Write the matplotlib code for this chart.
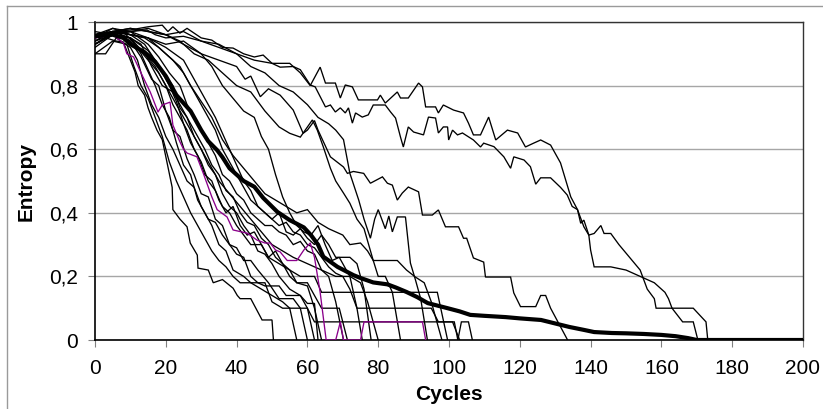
import matplotlib
matplotlib.use("Agg")
import matplotlib.pyplot as plt
from matplotlib.lines import Line2D

plt.rcParams["font.family"] = ["Liberation Sans", "DejaVu Sans"]

# ---- entropy traces per run: (cycle, entropy) vertices ----
run_a = [(0, 0.96), (5, 0.97), (10, 0.975), (15, 0.985), (19, 0.99), (20.6, 0.97), (22, 0.985), (24, 0.965),
         (26, 0.98), (28, 0.965), (30, 0.95), (33, 0.943), (36, 0.92), (39, 0.918), (42, 0.90), (45, 0.89),
         (47.5, 0.896), (50, 0.87), (55, 0.87), (58, 0.84), (60.8, 0.80), (63.6, 0.858), (65.1, 0.808),
         (67.9, 0.808), (69.3, 0.761), (70.7, 0.802), (72.7, 0.796), (74.4, 0.755), (79.8, 0.755), (80.6, 0.77),
         (82, 0.745), (85.4, 0.78), (86.3, 0.761), (88.5, 0.761), (91.4, 0.808), (92.5, 0.796), (93.4, 0.733),
         (96.2, 0.733), (97, 0.714), (98.4, 0.739), (101.3, 0.723), (104.1, 0.714), (105.5, 0.682),
         (106.9, 0.645), (108.9, 0.645), (111.2, 0.701), (113.2, 0.629), (116.5, 0.66), (119.4, 0.651),
         (121.6, 0.607), (123.9, 0.619), (125.9, 0.629), (128.7, 0.613), (131.5, 0.557), (134.4, 0.45),
         (136.3, 0.41), (138.1, 0.356), (139.5, 0.33), (141, 0.335), (142.9, 0.36), (143.8, 0.335),
         (145.7, 0.335), (148, 0.30), (151, 0.26), (154, 0.22), (156, 0.16), (158, 0.13), (158.5, 0.10),
         (163, 0.10), (166, 0.057), (169, 0.057), (170.3, 0.0)]

run_b = [(0, 0.93), (5, 0.96), (10, 0.97), (14.7, 0.975), (17, 0.96), (20, 0.95), (25, 0.955), (30, 0.94),
         (35, 0.92), (40, 0.90), (45, 0.88), (50, 0.87), (52.3, 0.858), (56, 0.86), (58, 0.85), (60.8, 0.802),
         (62.2, 0.796), (65.1, 0.733), (66.5, 0.739), (67.9, 0.717), (69.3, 0.73), (70.7, 0.714), (71.6, 0.73),
         (72.7, 0.682), (73.6, 0.714), (75.5, 0.701), (77.2, 0.708), (78.6, 0.739), (82, 0.739), (83.5, 0.717),
         (84.9, 0.698), (86.3, 0.638), (87.1, 0.607), (88.5, 0.67), (90, 0.654), (92.8, 0.645), (94.2, 0.701),
         (96.2, 0.698), (97, 0.651), (98.4, 0.67), (99.6, 0.67), (99.9, 0.629), (101, 0.66), (102.4, 0.645),
         (103.8, 0.651), (106.9, 0.629), (108.9, 0.607), (109.8, 0.619), (112.7, 0.608), (115.5, 0.576),
         (117.4, 0.54), (118.3, 0.576), (121.2, 0.566), (123, 0.545), (124.5, 0.49), (125.9, 0.51),
         (128.7, 0.51), (131.5, 0.48), (133.4, 0.456), (134.8, 0.42), (136.3, 0.41), (137.2, 0.367),
         (138.1, 0.377), (139.5, 0.33), (140, 0.283), (141, 0.23), (145.7, 0.23), (150, 0.22), (154, 0.20),
         (158, 0.18), (161, 0.15), (162, 0.13), (163, 0.10), (169, 0.10), (172.6, 0.057), (173.1, 0.0)]

run_c = [(0, 0.95), (5, 0.97), (10, 0.96), (15, 0.95), (20, 0.93), (25, 0.94), (30, 0.90), (35, 0.88),
         (40, 0.86), (42.4, 0.82), (44, 0.83), (46.7, 0.765), (49, 0.79), (52.3, 0.77), (56, 0.723),
         (58.8, 0.65), (60, 0.66), (62, 0.69), (63, 0.66), (66.5, 0.576), (70.2, 0.544), (71.3, 0.524),
         (73, 0.53), (75.9, 0.524), (77.8, 0.493), (81.2, 0.513), (82.6, 0.493), (84, 0.487), (85.4, 0.44),
         (86.8, 0.462), (88.5, 0.481), (91.4, 0.466), (92.5, 0.393), (95.3, 0.393), (97, 0.409), (99, 0.356),
         (102.7, 0.356), (104.1, 0.32), (105, 0.32), (106.9, 0.258), (109.8, 0.245), (110.3, 0.198),
         (117.4, 0.198), (118.3, 0.148), (120.2, 0.105), (124.5, 0.105), (125.9, 0.14), (127.3, 0.14),
         (128.7, 0.10), (133.5, 0.0)]

run_d = [(0, 0.94), (5, 0.97), (10, 0.95), (13, 0.90), (15, 0.85), (17, 0.80), (19, 0.74), (21, 0.70),
         (23, 0.62), (25, 0.55), (27, 0.52), (29, 0.44), (31, 0.40), (33, 0.36), (35, 0.30), (37, 0.28),
         (39, 0.22), (42, 0.20), (44, 0.18), (47, 0.16), (50, 0.14), (53, 0.12), (55, 0.10), (60, 0.10),
         (62, 0.057), (101.5, 0.057), (102.5, 0.0), (103.5, 0.057), (105.5, 0.057), (106.6, 0.0)]

run_e = [(0, 0.93), (4, 0.96), (8, 0.97), (12, 0.92), (15, 0.88), (18, 0.84), (20, 0.80), (22, 0.74),
         (24, 0.70), (26, 0.66), (28, 0.60), (30, 0.56), (32, 0.50), (34, 0.47), (36, 0.42), (38, 0.40),
         (40, 0.36), (42, 0.33), (44, 0.30), (47, 0.30), (49, 0.26), (52, 0.24), (55, 0.22), (58, 0.20),
         (62, 0.20), (64, 0.15), (96.7, 0.15), (99.6, 0.0)]

run_f = [(0, 0.90), (5, 0.94), (9, 0.93), (11, 0.86), (13, 0.80), (15, 0.76), (17, 0.70), (19, 0.64),
         (21, 0.56), (23, 0.50), (25, 0.45), (27, 0.40), (29, 0.36), (31, 0.32), (33, 0.28), (35, 0.25),
         (37, 0.23), (39, 0.20), (41, 0.18), (48, 0.18), (50, 0.12), (53, 0.10), (55, 0.10), (57, 0.0)]

run_g = [(0, 0.95), (5, 0.98), (10, 0.97), (15, 0.98), (20, 0.96), (25, 0.97), (30, 0.94), (35, 0.93),
         (40, 0.90), (44, 0.86), (48, 0.84), (52, 0.80), (56, 0.78), (60, 0.74), (63, 0.70), (66, 0.68),
         (68, 0.66), (70.2, 0.63), (72, 0.524), (74.5, 0.44), (76, 0.38), (77.8, 0.32), (79, 0.38),
         (80, 0.41), (82, 0.35), (83, 0.39), (84, 0.34), (85.4, 0.387), (87.7, 0.387), (89.1, 0.242),
         (90.5, 0.19), (92, 0.13), (93.9, 0.0)]

run_h = [(0, 0.95), (6, 0.97), (10, 0.94), (13, 0.89), (16, 0.82), (18, 0.80), (20, 0.72), (22, 0.66),
         (24, 0.64), (26, 0.57), (28, 0.52), (30, 0.46), (32, 0.45), (34, 0.38), (36, 0.36), (38, 0.30),
         (40, 0.29), (42, 0.25), (44, 0.25), (46, 0.22), (49, 0.18), (52, 0.13), (56, 0.13), (58, 0.10),
         (60, 0.0)]

run_i = [(0, 0.96), (5, 0.98), (10, 0.96), (14, 0.93), (17, 0.88), (20, 0.83), (22, 0.80), (24, 0.73),
         (26, 0.70), (28, 0.64), (30, 0.60), (32, 0.55), (34, 0.52), (36, 0.46), (38, 0.42), (40, 0.40),
         (42, 0.36), (44, 0.33), (46, 0.28), (48, 0.27), (50, 0.24), (52, 0.20), (55, 0.16), (58, 0.14),
         (60, 0.10), (62, 0.0)]

run_j = [(0, 0.92), (5, 0.96), (10, 0.95), (15, 0.91), (18, 0.86), (21, 0.80), (23, 0.75), (25, 0.68),
         (27, 0.62), (29, 0.58), (31, 0.52), (33, 0.50), (35, 0.44), (37, 0.40), (39, 0.42), (41, 0.36),
         (43, 0.33), (45, 0.34), (47, 0.30), (49, 0.26), (51, 0.28), (53, 0.24), (55, 0.22), (57, 0.18),
         (60, 0.17), (62, 0.10), (64, 0.0)]

run_k = [(0, 0.94), (5, 0.97), (10, 0.97), (15, 0.93), (18, 0.89), (21, 0.84), (24, 0.80), (26, 0.74),
         (28, 0.70), (30, 0.66), (32, 0.62), (34, 0.58), (36, 0.52), (38, 0.50), (40, 0.46), (42, 0.44),
         (44, 0.40), (46, 0.38), (48, 0.36), (50, 0.36), (52, 0.34), (54, 0.33), (56, 0.30), (58, 0.31),
         (60, 0.28), (62, 0.27), (64, 0.22), (66, 0.20), (68, 0.12), (70.2, 0.0)]

run_l = [(0, 0.96), (5, 0.97), (10, 0.96), (14, 0.95), (18, 0.92), (22, 0.88), (25, 0.84), (28, 0.78),
         (30, 0.74), (32, 0.70), (34, 0.66), (36, 0.60), (38, 0.56), (40, 0.52), (42, 0.48), (44, 0.44),
         (46, 0.42), (48, 0.40), (50, 0.38), (52, 0.36), (54, 0.37), (56, 0.34), (58, 0.33), (60, 0.30),
         (62, 0.29), (64, 0.26), (66, 0.23), (68, 0.21), (70, 0.20), (72, 0.16), (74, 0.10), (75.5, 0.0)]

run_m = [(0, 0.93), (5, 0.96), (10, 0.97), (15, 0.95), (20, 0.92), (25, 0.88), (28, 0.82), (31, 0.76),
         (34, 0.70), (36, 0.65), (38, 0.60), (40, 0.55), (42, 0.50), (44, 0.47), (46, 0.42), (48, 0.40),
         (50, 0.38), (52, 0.40), (54, 0.34), (56, 0.33), (58, 0.35), (60, 0.32), (62, 0.30), (64, 0.33),
         (66, 0.30), (68, 0.26), (72, 0.26), (74, 0.24), (76, 0.16), (78, 0.0)]

run_n = [(0, 0.96), (5, 0.97), (10, 0.98), (15, 0.97), (20, 0.96), (24, 0.94), (28, 0.90), (32, 0.88),
         (36, 0.84), (40, 0.80), (44, 0.78), (48, 0.72), (52, 0.67), (55, 0.65), (58, 0.638), (61.4, 0.692),
         (62.8, 0.66), (64.5, 0.607), (66.5, 0.54), (68, 0.50), (70.2, 0.462), (72, 0.43), (74, 0.38),
         (76, 0.35), (78.6, 0.25), (80, 0.20), (82, 0.20), (84, 0.15), (86.3, 0.0)]

run_o = [(0, 0.95), (5, 0.97), (10, 0.96), (15, 0.95), (20, 0.90), (24, 0.86), (27, 0.80), (30, 0.75),
         (33, 0.70), (36, 0.63), (39, 0.58), (42, 0.54), (45, 0.50), (48, 0.46), (51, 0.44), (54, 0.42),
         (57, 0.40), (60, 0.41), (63, 0.37), (66, 0.35), (70, 0.33), (72, 0.30), (75, 0.305), (77, 0.28),
         (78.6, 0.25), (85.4, 0.25), (88, 0.22), (90.5, 0.198), (93, 0.18), (95, 0.12), (98, 0.0)]

run_p = [(0, 0.94), (5, 0.96), (10, 0.95), (14, 0.90), (17, 0.86), (20, 0.80), (23, 0.74), (26, 0.68),
         (29, 0.62), (32, 0.56), (35, 0.50), (38, 0.46), (41, 0.42), (44, 0.38), (47, 0.34), (50, 0.30),
         (53, 0.28), (56, 0.26), (60, 0.24), (64, 0.22), (68, 0.20), (72, 0.20), (74, 0.10), (95, 0.10),
         (97, 0.057), (101, 0.057), (103, 0.0)]

run_q = [(0, 0.90), (3, 0.90), (6, 0.95), (10, 0.92), (12, 0.88), (14, 0.80), (16, 0.74), (18, 0.70),
         (20, 0.64), (22, 0.60), (24, 0.55), (26, 0.50), (28, 0.48), (30, 0.42), (32, 0.38), (34, 0.37),
         (36, 0.33), (38, 0.30), (40, 0.27), (42, 0.26), (44, 0.20), (46, 0.18), (48, 0.17), (52, 0.17),
         (54, 0.14), (58, 0.14), (60, 0.115), (62, 0.115), (63, 0.0)]

run_r = [(0, 0.97), (5, 0.96), (10, 0.95), (13, 0.93), (16, 0.86), (19, 0.80), (22, 0.78), (25, 0.72),
         (28, 0.66), (31, 0.60), (33, 0.55), (35, 0.52), (37, 0.47), (39, 0.45), (41, 0.40), (43, 0.37),
         (45, 0.36), (47, 0.32), (49, 0.30), (51, 0.26), (53, 0.24), (55, 0.20), (57, 0.18), (60, 0.18),
         (62, 0.14), (64, 0.10), (69, 0.10), (71.3, 0.0)]

run_s = [(0, 0.95), (5, 0.97), (10, 0.98), (15, 0.97), (20, 0.96), (25, 0.93), (30, 0.90), (33, 0.86),
         (36, 0.80), (39, 0.76), (42, 0.72), (45, 0.70), (47, 0.64), (49, 0.60), (51, 0.52), (53, 0.45),
         (55, 0.40), (57, 0.36), (59, 0.34), (61, 0.33), (63, 0.36), (65, 0.30), (67, 0.25), (69, 0.26),
         (72, 0.20), (75, 0.18), (77, 0.12), (80, 0.0)]

run_t = [(0, 0.93), (3, 0.95), (6, 0.94), (8, 0.937), (10, 0.88), (11.3, 0.843), (12.2, 0.80), (14, 0.77),
         (15, 0.73), (16, 0.70), (17.5, 0.66), (19, 0.63), (20.5, 0.55), (21.8, 0.48), (22, 0.41), (24, 0.38),
         (26, 0.356), (26.9, 0.305), (28.9, 0.267), (29.1, 0.226), (32, 0.22), (33.4, 0.18), (36, 0.19),
         (39, 0.163), (40.2, 0.14), (41, 0.13), (44, 0.13), (47.2, 0.063), (50, 0.063), (50.4, 0.0)]

# highlighted run
run_purple = [(0, 0.95), (5, 0.96), (8, 0.934), (9, 0.90), (10.9, 0.89), (13, 0.84), (15.6, 0.78),
              (17.8, 0.717), (19, 0.739), (21.2, 0.748), (22, 0.676), (24, 0.623), (25, 0.60), (26, 0.588),
              (28.8, 0.576), (30.6, 0.524), (33, 0.45), (34.5, 0.41), (37.3, 0.387), (39, 0.346), (43, 0.336),
              (45.8, 0.314), (48, 0.305), (49.5, 0.305), (51, 0.283), (52.3, 0.277), (54.3, 0.25), (57, 0.25),
              (59, 0.283), (60.8, 0.305), (62, 0.26), (63.6, 0.15), (65.3, 0.0), (68, 0.0), (69.3, 0.057),
              (70.2, 0.0), (75, 0.0), (76, 0.057), (92.5, 0.057), (93.4, 0.0)]

# average over all runs
run_mean = [(0, 0.955), (5, 0.96), (8, 0.95), (10, 0.93), (14, 0.905), (17, 0.875), (20, 0.83), (23, 0.77),
            (27, 0.72), (30, 0.66), (32, 0.625), (34.5, 0.597), (36, 0.575), (38, 0.54), (42, 0.50),
            (45, 0.482), (47.5, 0.447), (51.5, 0.403), (55, 0.377), (59, 0.354), (61, 0.33), (63, 0.30),
            (64.5, 0.262), (68.5, 0.23), (73, 0.204), (75, 0.195), (78.6, 0.181), (82.6, 0.175), (85, 0.165),
            (88, 0.151), (91, 0.135), (94, 0.116), (99.6, 0.10), (103, 0.09), (106, 0.079), (110, 0.076),
            (116, 0.072), (120, 0.068), (126, 0.063), (130, 0.052), (134, 0.041), (138, 0.032), (141, 0.025),
            (146, 0.022), (150, 0.021), (155, 0.019), (160, 0.016), (164, 0.012), (167.5, 0.006), (170, 0.0),
            (200, 0.0)]

thin_runs = [run_a, run_b, run_c, run_d, run_e, run_f, run_g, run_h, run_i, run_j,
             run_k, run_l, run_m, run_n, run_o, run_p, run_q, run_r, run_s, run_t]

y_ticks = [0, 0.2, 0.4, 0.6, 0.8, 1.0]
y_tick_labels = ["0", "0,2", "0,4", "0,6", "0,8", "1"]
x_ticks = list(range(0, 201, 20))

W, H = 823, 409
fig = plt.figure(figsize=(W / 100, H / 100), dpi=100)
ax = fig.add_axes([95 / W, 1 - 340 / H, (803 - 95) / W, (340 - 22) / H])

for run in thin_runs:
    xs, ys = zip(*run)
    ax.plot(xs, ys, color="black", lw=0.95, solid_joinstyle="miter", zorder=3)

xs, ys = zip(*run_purple)
ax.plot(xs, ys, color="#8b008b", lw=0.95, zorder=4)

xs, ys = zip(*run_mean)
ax.plot(xs, ys, color="black", lw=3.0, zorder=5, solid_capstyle="butt")

ax.set_xlim(0, 200)
ax.set_ylim(0, 1)
ax.set_yticks(y_ticks)
ax.set_yticklabels(y_tick_labels)
ax.set_xticks(x_ticks)
ax.set_xticklabels([str(t) for t in x_ticks])
ax.yaxis.grid(True, color="#a6a6a6", lw=1.0)
ax.set_axisbelow(True)
ax.tick_params(axis="both", direction="out", length=5, width=0.8, color="#808080",
               labelsize=15, colors="black")
ax.tick_params(axis="y", pad=7)
ax.tick_params(axis="x", pad=9)

for side in ("left", "bottom"):
    ax.spines[side].set_color("black")
    ax.spines[side].set_linewidth(1.2)
for side in ("top", "right"):
    ax.spines[side].set_color("#333333")
    ax.spines[side].set_linewidth(1.0)

ax.set_xlabel("Cycles", fontsize=15, fontweight="bold", labelpad=5)
ax.set_ylabel("Entropy", fontsize=15, fontweight="bold", labelpad=10)

# outer chart frame
fig.add_artist(Line2D([7 / W, 1.0], [1 - 6 / H, 1 - 6 / H], transform=fig.transFigure,
                      color="#9a9a9a", lw=1.0))
fig.add_artist(Line2D([7 / W, 7 / W], [0.0, 1 - 6 / H], transform=fig.transFigure,
                      color="#9a9a9a", lw=1.0))

fig.savefig("out.png", dpi=100)
